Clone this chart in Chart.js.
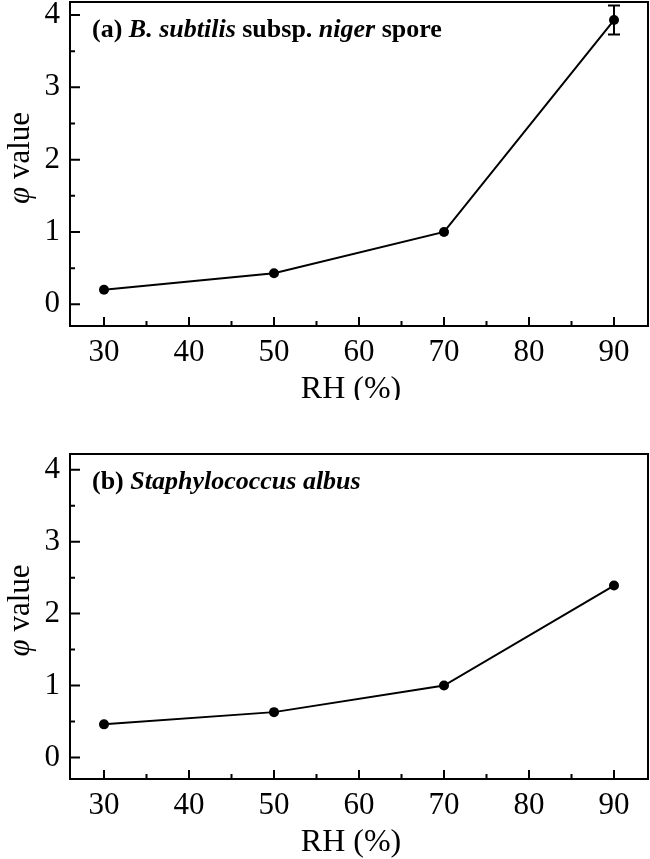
<!DOCTYPE html>
<html><head><meta charset="utf-8">
<script src="https://cdn.jsdelivr.net/npm/chart.js@4"></script>
<style>
body{margin:0;background:#fff;overflow:hidden;}
.w{position:absolute;left:0;width:650px;}
</style>
</head><body>
<div class="w" style="top:-30px;height:430px"><canvas id="c1"></canvas></div>
<div class="w" style="top:400px;height:459px"><canvas id="c2"></canvas></div>
<script>
const rh = [30, 50, 70, 90];
const phiA = [0.20, 0.43, 1.00, 3.93];
const errA = [0, 0, 0, 0.20];
const phiB = [0.46, 0.63, 1.00, 2.39];
const errB = [0, 0, 0, 0];
const xTicks = [30, 40, 50, 60, 70, 80, 90];
const xMinor = [35, 45, 55, 65, 75, 85];
const yTicks = [0, 1, 2, 3, 4];
const yMinor = [0.5, 1.5, 2.5, 3.5];
const xTitle = 'RH (%)';
const yTitle = [['φ', 'italic'], [' value', 'normal']];
const labelA = [['(a) ', 'bold'], ['B. subtilis', 'italic bold'], [' subsp. ', 'bold'], ['niger', 'italic bold'], [' spore', 'bold']];
const labelB = [['(b) ', 'bold'], ['Staphylococcus albus', 'italic bold']];

const FONT = '"Liberation Serif", "Times New Roman", serif';

function drawSegments(ctx, segs, size, x, y, align) {
  let total = 0;
  segs.forEach(s => { ctx.font = s[1] + ' ' + size + 'px ' + FONT; total += ctx.measureText(s[0]).width; });
  let cx = align === 'center' ? x - total / 2 : x;
  ctx.textAlign = 'left';
  ctx.textBaseline = 'middle';
  segs.forEach(s => { ctx.font = s[1] + ' ' + size + 'px ' + FONT; ctx.fillText(s[0], cx, y); cx += ctx.measureText(s[0]).width; });
}

const decor = {
  id: 'decor',
  afterDatasetsDraw(chart, args, opts) {
    const ctx = chart.ctx, a = chart.chartArea, xs = chart.scales.x, ys = chart.scales.y;
    ctx.save();
    ctx.strokeStyle = '#000'; ctx.lineWidth = 2;
    opts.errs.forEach((e, i) => {
      if (!e) return;
      const px = xs.getPixelForValue(rh[i]);
      const y1 = ys.getPixelForValue(opts.vals[i] + e), y2 = ys.getPixelForValue(opts.vals[i] - e);
      ctx.beginPath();
      ctx.moveTo(px, y1); ctx.lineTo(px, y2);
      ctx.moveTo(px - 6, y1); ctx.lineTo(px + 6, y1);
      ctx.moveTo(px - 6, y2); ctx.lineTo(px + 6, y2);
      ctx.stroke();
    });
    ctx.lineWidth = 2;
    ctx.strokeRect(a.left, a.top, a.right - a.left, a.bottom - a.top);
    ctx.beginPath();
    xTicks.forEach(v => { const p = xs.getPixelForValue(v); ctx.moveTo(p, a.bottom); ctx.lineTo(p, a.bottom - 9); });
    xMinor.forEach(v => { const p = xs.getPixelForValue(v); ctx.moveTo(p, a.bottom); ctx.lineTo(p, a.bottom - 5); });
    yTicks.forEach(v => { const p = ys.getPixelForValue(v); ctx.moveTo(a.left, p); ctx.lineTo(a.left + 10, p); });
    yMinor.forEach(v => { const p = ys.getPixelForValue(v); ctx.moveTo(a.left, p); ctx.lineTo(a.left + 5, p); });
    ctx.stroke();
    ctx.fillStyle = '#000';
    drawSegments(ctx, opts.label, 26, 92, a.top + 28, 'left');
    drawSegments(ctx, [[xTitle, 'normal']], 32, (a.left + a.right) / 2 - 8, a.bottom + 64, 'center');
    ctx.translate(21, (a.top + a.bottom) / 2 - 6);
    ctx.rotate(-Math.PI / 2);
    drawSegments(ctx, yTitle, 31, 0, 0, 'center');
    ctx.restore();
  }
};

function makeChart(id, vals, errs, label, ymin, ymax, padTop, xAxisH) {
  new Chart(document.getElementById(id), {
    type: 'line',
    data: {
      datasets: [{
        data: rh.map((x, i) => ({ x: x, y: vals[i] })),
        borderColor: '#000', borderWidth: 2,
        pointRadius: 5, pointBackgroundColor: '#000', pointBorderColor: '#000', pointBorderWidth: 0,
        tension: 0, fill: false
      }]
    },
    options: {
      responsive: true, maintainAspectRatio: false, animation: false,
      layout: { autoPadding: false, padding: { left: 0, right: 2, top: padTop, bottom: 0 } },
      plugins: { legend: { display: false }, tooltip: { enabled: false }, decor: { vals: vals, errs: errs, label: label } },
      scales: {
        x: {
          type: 'linear', min: 26, max: 94,
          afterBuildTicks: s => { s.ticks = xTicks.map(v => ({ value: v })); },
          afterFit: s => { s.height = xAxisH; },
          grid: { display: false, drawTicks: false },
          border: { display: false },
          ticks: { color: '#000', font: { family: FONT, size: 31 }, padding: 8, maxRotation: 0, autoSkip: false }
        },
        y: {
          min: ymin, max: ymax,
          afterBuildTicks: s => { s.ticks = yTicks.map(v => ({ value: v })); },
          afterFit: s => { s.width = 70; },
          grid: { display: false, drawTicks: false },
          border: { display: false },
          ticks: { color: '#000', font: { family: FONT, size: 31 }, padding: 10 }
        }
      }
    },
    plugins: [decor]
  });
}

makeChart('c1', phiA, errA, labelA, -0.3, 4.18, 32, 74);
makeChart('c2', phiB, errB, labelB, -0.3, 4.22, 54, 80);
</script>
</body></html>
